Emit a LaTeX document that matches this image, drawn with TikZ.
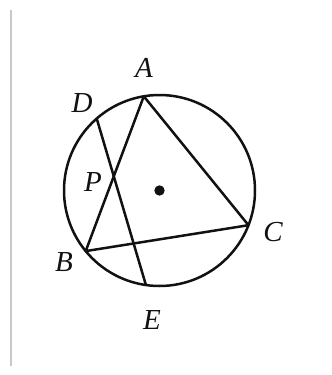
\documentclass[tikz,border=0pt]{standalone}
\usepackage{fontspec}
\setmainfont{Liberation Serif}
\usetikzlibrary{calc}
\definecolor{ink}{HTML}{111111}
\definecolor{rule}{HTML}{C8C8C8}

\begin{document}
\begin{tikzpicture}[x=1pt,y=-1pt,line width=2.5pt,draw=ink,
    lbl/.style={text=ink,font=\itshape\fontsize{29}{30}\selectfont,inner sep=0pt}]
  \useasboundingbox (0,0) rectangle (332,375);

  % page rule at the left
  \draw[rule,line width=1.3pt] (11,10) -- (11,366);

  % circle and points on it
  \coordinate (O) at (159.5,190.5);
  \draw (O) circle[radius=95.5];
  \coordinate (A) at ($(O)+(-15.7,-94.2)$);
  \coordinate (D) at ($(O)+(-62.8,-72)$);
  \coordinate (B) at ($(O)+(-73.8,60.6)$);
  \coordinate (C) at ($(O)+(89,34.7)$);
  \coordinate (E) at ($(O)+(-13.6,94.5)$);
  \coordinate (P) at (intersection of A--B and D--E);
  \fill[ink] (O) circle[radius=5.2];

  % triangle and chord
  \draw[line join=round] (A) -- (B) -- (C) -- cycle;
  \draw (D) -- (E);

  % labels
  \node[lbl] (lA) at (144,68) {A};
  \node[lbl] (lD) at (82,103) {D};
  \node[lbl] (lP) at (93,182) {P};
  \node[lbl] (lB) at (64,262) {B};
  \node[lbl] (lC) at (273,232) {C};
  \node[lbl] (lE) at (152,320) {E};
\end{tikzpicture}
\end{document}
